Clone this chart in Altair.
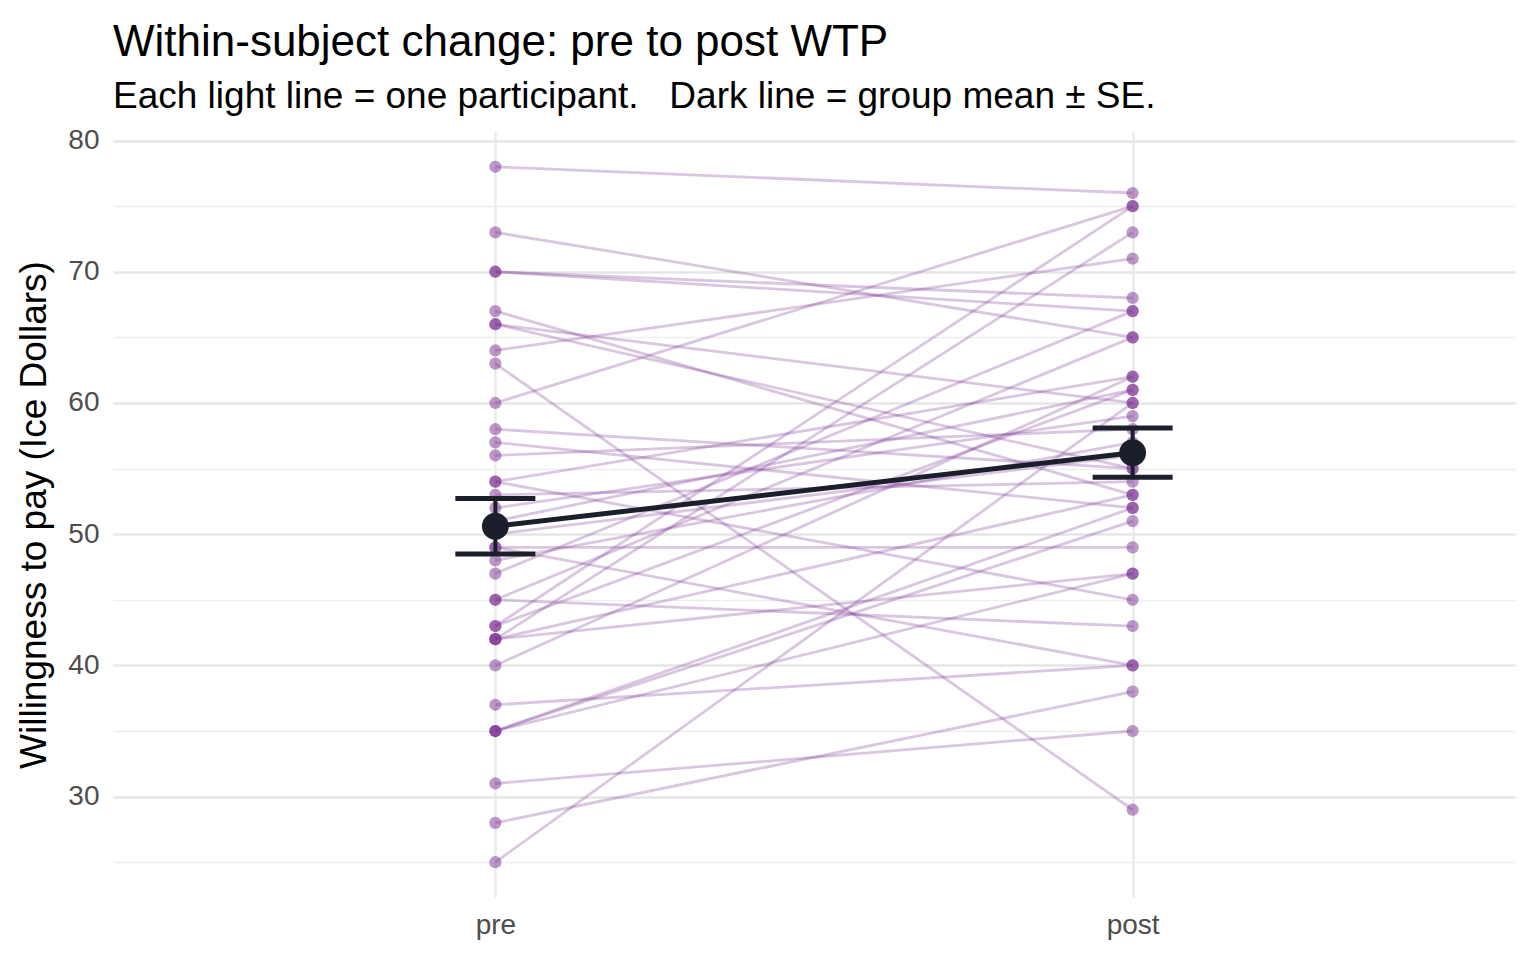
import altair as alt
import pandas as pd

# paired WTP values, one participant per position
pre_wtp = [78, 73, 70, 70, 67, 66, 66, 64, 63, 60, 58, 57, 56, 54, 54, 53, 52, 51, 50,
           49, 49, 48, 47, 45, 45, 43, 43, 42, 42, 42, 40, 37, 35, 35, 35, 31, 28, 25]
post_wtp = [76, 65, 68, 67, 53, 60, 55, 71, 29, 75, 55, 52, 58, 62, 45, 54, 59, 61, 56,
            49, 40, 57, 67, 65, 43, 75, 61, 73, 47, 53, 62, 40, 52, 47, 51, 35, 38, 60]
times = ["pre", "post"]
y_ticks = [25, 30, 35, 40, 45, 50, 55, 60, 65, 70, 75, 80]

rows = []
for i, (a, b) in enumerate(zip(pre_wtp, post_wtp)):
    rows.append({"id": i, "time": "pre", "wtp": a})
    rows.append({"id": i, "time": "post", "wtp": b})
df = pd.DataFrame(rows)

purple = "#7B3294"
dark = "#1B1F2B"

x_enc = alt.X("time:N", sort=times,
              scale=alt.Scale(type="point", padding=0.6),
              axis=alt.Axis(title=None, labelAngle=0, ticks=False, domain=False,
                            grid=True, gridColor="#EBEBEB", gridWidth=2.5,
                            labelFontSize=28, labelColor="#4D4D4D", labelPadding=14))
y_scale = alt.Scale(domain=[22.35, 80.65], nice=False, zero=False)
y_enc = alt.Y("wtp:Q", scale=y_scale,
              axis=alt.Axis(title="Willingness to pay (Ice Dollars)", values=y_ticks,
                            ticks=False, domain=False,
                            labelExpr="datum.value % 10 === 0 ? datum.label : ''",
                            gridColor={"condition": {"test": "datum.value % 10 === 0", "value": "#E6E6E6"}, "value": "#EEEEEE"},
                            gridWidth={"condition": {"test": "datum.value % 10 === 0", "value": 2.6}, "value": 1.4},
                            labelFontSize=28, labelColor="#4D4D4D", labelPadding=14,
                            titleFontSize=37, titleFontWeight="normal", titleColor="black",
                            titlePadding=14))

base = alt.Chart(df)

lines = base.mark_line(color=purple, opacity=0.28, strokeWidth=2.8).encode(
    x=x_enc, y=y_enc, detail="id:N"
)
points = base.mark_circle(color=purple, opacity=0.5, size=150).encode(
    x=x_enc, y=y_enc
)

summary = base.transform_aggregate(
    mean="mean(wtp)", se="stderr(wtp)", groupby=["time"]
).transform_calculate(
    lo="datum.mean - datum.se", hi="datum.mean + datum.se"
)

err = summary.mark_rule(color=dark, strokeWidth=4).encode(
    x=alt.X("time:N", sort=times), y=alt.Y("lo:Q", scale=y_scale), y2="hi:Q"
)
caps = summary.transform_fold(["lo", "hi"], as_=["end", "val"]).mark_tick(
    color=dark, size=80, thickness=5, orient="horizontal", opacity=1
).encode(
    x=alt.X("time:N", sort=times), y=alt.Y("val:Q", scale=y_scale)
)
mean_line = summary.mark_line(color=dark, strokeWidth=5).encode(
    x=alt.X("time:N", sort=times), y=alt.Y("mean:Q", scale=y_scale)
)
mean_pt = summary.mark_circle(color=dark, opacity=1, size=720).encode(
    x=alt.X("time:N", sort=times), y=alt.Y("mean:Q", scale=y_scale)
)

chart = alt.layer(lines, points, err, caps, mean_line, mean_pt).properties(
    width=1402,
    height=765,
    autosize=alt.AutoSizeParams(type="none"),
    padding={"left": 105, "top": 124, "right": 13, "bottom": 55},
    title=alt.Title(
        "Within-subject change: pre to post WTP",
        subtitle="Each light line = one participant.\u00a0\u00a0 Dark line = group mean \u00b1 SE.",
        anchor="start", frame="group", fontSize=44, subtitleFontSize=37,
        fontWeight="normal", color="black", subtitleColor="black",
        subtitlePadding=14, offset=12
    )
).configure(
    font="Liberation Sans"
).configure_view(
    stroke=None
)

chart.save("out.html", embed_options={"renderer": "svg", "actions": False})
